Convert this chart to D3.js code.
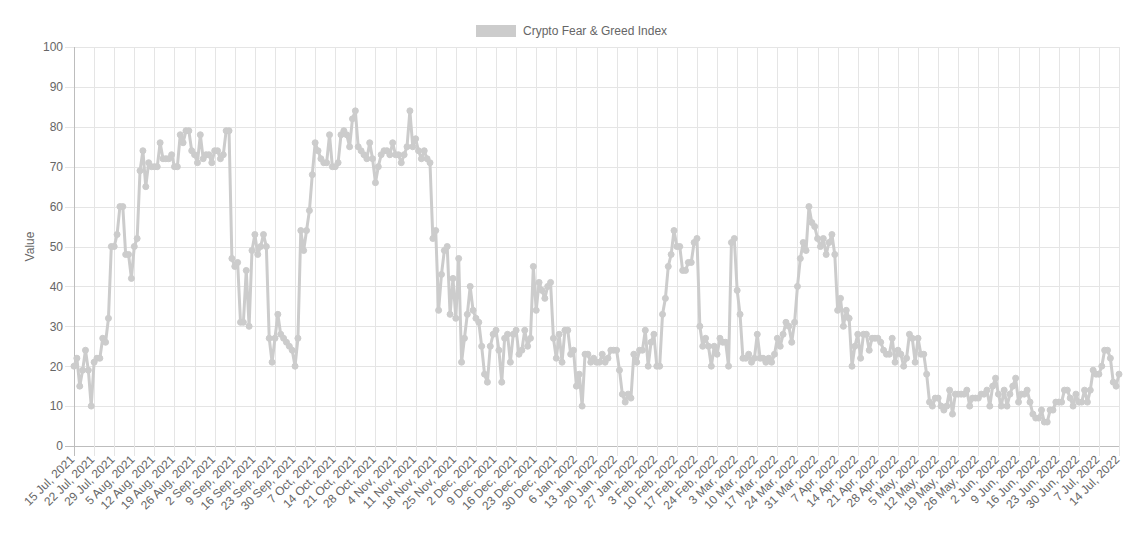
<!DOCTYPE html>
<html>
<head>
<meta charset="utf-8">
<script src="https://cdn.jsdelivr.net/npm/d3@7"></script>
<style>
  html, body { margin: 0; padding: 0; background: #fff; }
  svg { display: block; font-family: "Liberation Sans", Arial, Helvetica, sans-serif; }
</style>
</head>
<body>
<svg id="chart" width="1144" height="534"></svg>
<script>
// ---- data ----
const seriesName = "Crypto Fear & Greed Index";
const yTicks = [0, 10, 20, 30, 40, 50, 60, 70, 80, 90, 100];
const tickLabels = [
  "15 Jul, 2021","22 Jul, 2021","29 Jul, 2021","5 Aug, 2021","12 Aug, 2021","19 Aug, 2021",
  "26 Aug, 2021","2 Sep, 2021","9 Sep, 2021","16 Sep, 2021","23 Sep, 2021","30 Sep, 2021",
  "7 Oct, 2021","14 Oct, 2021","21 Oct, 2021","28 Oct, 2021","4 Nov, 2021","11 Nov, 2021",
  "18 Nov, 2021","25 Nov, 2021","2 Dec, 2021","9 Dec, 2021","16 Dec, 2021","23 Dec, 2021",
  "30 Dec, 2021","6 Jan, 2022","13 Jan, 2022","20 Jan, 2022","27 Jan, 2022","3 Feb, 2022",
  "10 Feb, 2022","17 Feb, 2022","24 Feb, 2022","3 Mar, 2022","10 Mar, 2022","17 Mar, 2022",
  "24 Mar, 2022","31 Mar, 2022","7 Apr, 2022","14 Apr, 2022","21 Apr, 2022","28 Apr, 2022",
  "5 May, 2022","12 May, 2022","19 May, 2022","26 May, 2022","2 Jun, 2022","9 Jun, 2022",
  "16 Jun, 2022","23 Jun, 2022","30 Jun, 2022","7 Jul, 2022","14 Jul, 2022"
];
// daily values, 15 Jul 2021 .. 14 Jul 2022
const values = [
  20,22,15,19,24,19,10,21,22,22,
  27,26,32,50,50,53,60,60,48,48,
  42,50,52,69,74,65,71,70,70,70,
  76,72,72,72,73,70,70,78,76,79,
  79,74,73,71,78,72,73,73,71,74,
  74,72,73,79,79,47,45,46,31,31,
  44,30,49,53,48,50,53,50,27,21,
  27,33,28,27,26,25,24,20,27,54,
  49,54,59,68,76,74,72,71,71,78,
  70,70,71,78,79,78,75,82,84,75,
  74,73,72,76,72,66,70,73,74,74,
  73,76,73,73,71,73,75,84,75,77,
  74,72,74,72,71,52,54,34,43,49,
  50,33,42,32,47,21,27,33,40,34,
  32,31,25,18,16,25,28,29,24,16,
  27,28,21,28,29,23,24,29,25,27,
  45,34,41,39,37,40,41,27,22,28,
  21,29,29,23,24,15,18,10,23,23,
  21,22,21,21,23,21,22,24,24,24,
  19,13,11,13,12,23,21,24,24,29,
  20,26,28,20,20,33,37,45,48,54,
  50,50,44,44,46,46,51,52,30,25,
  27,25,20,25,23,27,26,26,20,51,
  52,39,33,22,22,23,21,22,28,22,
  22,21,22,21,23,27,25,28,31,30,
  26,31,40,47,51,49,60,56,55,52,
  50,52,48,51,53,48,34,37,30,34,
  32,20,25,28,22,28,28,24,27,27,
  27,26,24,23,23,27,21,24,23,20,
  22,28,27,21,27,23,23,18,11,10,
  12,12,10,9,10,14,8,13,13,13,
  13,14,10,12,12,12,13,13,14,10,
  15,17,13,10,14,10,13,15,17,11,
  13,13,14,11,8,7,7,9,6,6,
  9,9,11,11,11,14,14,12,10,13,
  11,11,14,11,14,19,18,18,20,24,
  24,22,16,15,18
];
const tickEvery = 7;

// ---- layout ----
const svg = d3.select("#chart");
const pLeft = 74, pRight = 1119, pTop = 47, pBottom = 446;
const textColor = "#666";
const gridColor = "#e5e5e5";
const axisColor = "#bdbdbd";
const lineColor = "#cccccc";

const x = d3.scaleLinear().domain([0, values.length - 1]).range([pLeft, pRight]);
const y = d3.scaleLinear().domain([0, 100]).range([pBottom, pTop]);

const tickIdx = tickLabels.map((_, k) => k * tickEvery);

// horizontal grid
svg.append("g").selectAll("line").data(yTicks).join("line")
  .attr("x1", pLeft - 9).attr("x2", pRight)
  .attr("y1", d => Math.round(y(d)) + 0.5).attr("y2", d => Math.round(y(d)) + 0.5)
  .attr("stroke", d => d === 0 ? axisColor : gridColor).attr("stroke-width", 1);

// vertical grid
svg.append("g").selectAll("line").data(tickIdx).join("line")
  .attr("x1", d => Math.round(x(d)) + 0.5).attr("x2", d => Math.round(x(d)) + 0.5)
  .attr("y1", pTop).attr("y2", pBottom + 10)
  .attr("stroke", (d, i) => i === 0 ? axisColor : gridColor).attr("stroke-width", 1);

// y axis labels via d3 axis
const yAxis = d3.axisLeft(y).tickValues(yTicks).tickSize(0).tickPadding(0);
const gy = svg.append("g").attr("transform", `translate(${pLeft - 11},0)`).call(yAxis);
gy.select(".domain").remove();
gy.selectAll("text").attr("fill", textColor).attr("font-size", 12)
  .attr("font-family", "'Liberation Sans', Arial, sans-serif");

// y title
svg.append("text")
  .attr("transform", `translate(31,${(pTop + pBottom) / 2}) rotate(-90)`)
  .attr("text-anchor", "middle").attr("dominant-baseline", "middle")
  .attr("fill", textColor).attr("font-size", 12).text("Value");

// x labels
svg.append("g").selectAll("text").data(tickLabels).join("text")
  .attr("transform", (d, k) => `translate(${x(tickIdx[k]) - 1},${pBottom + 12}) rotate(-45)`)
  .attr("text-anchor", "end").attr("dominant-baseline", "middle")
  .attr("fill", textColor).attr("font-size", 12).text(d => d);

// line
const line = d3.line().x((d, i) => x(i)).y(d => y(d));
svg.append("path").datum(values)
  .attr("d", line).attr("fill", "none")
  .attr("stroke", lineColor).attr("stroke-width", 3).attr("stroke-linejoin", "round");

// points
svg.append("g").selectAll("circle").data(values).join("circle")
  .attr("cx", (d, i) => x(i)).attr("cy", d => y(d)).attr("r", 3)
  .attr("fill", lineColor).attr("stroke", lineColor).attr("stroke-width", 1);

// legend
svg.append("rect").attr("x", 476).attr("y", 25).attr("width", 40).attr("height", 12)
  .attr("fill", lineColor);
svg.append("text").attr("x", 523).attr("y", 31.5).attr("dominant-baseline", "middle")
  .attr("fill", textColor).attr("font-size", 12).text(seriesName);
</script>
</body>
</html>
